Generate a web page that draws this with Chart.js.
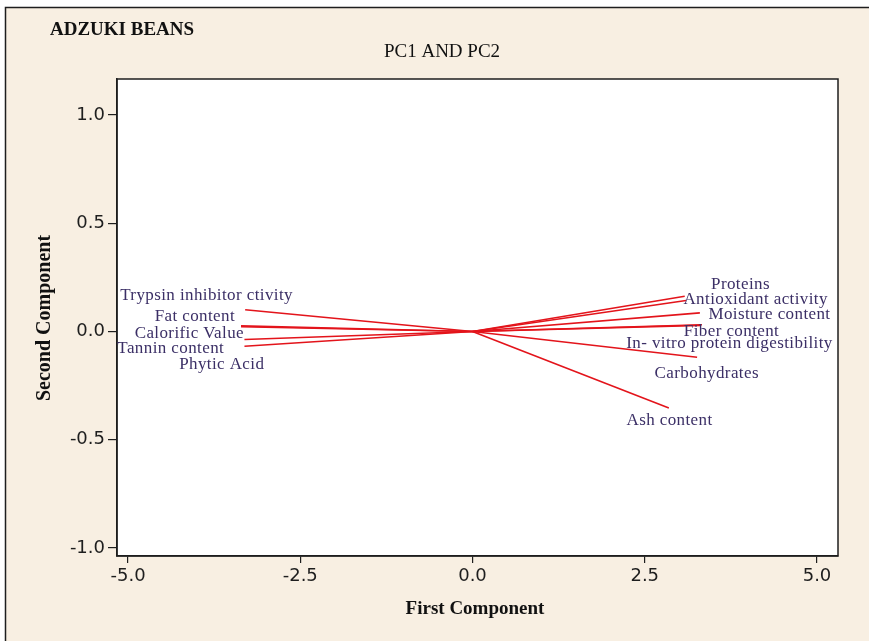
<!DOCTYPE html>
<html lang="en">
<head>
<meta charset="UTF-8">
<title>Adzuki beans PC1 and PC2</title>
<script src="https://cdn.jsdelivr.net/npm/chart.js"></script>
<style>
    html, body { margin: 0; padding: 0; background: #ffffff; }
    #wrap { width: 869px; height: 641px; position: relative; }
</style>
</head>
<body>
<div id="wrap"><canvas id="biplot"></canvas></div>

<script>
    // loadings (end point of each vector)
    const variables = ['Trypsin inhibitor ctivity', 'Fat content', 'Calorific Value', 'Tannin content', 'Phytic Acid',
        'Proteins', 'Antioxidant activity', 'Moisture content', 'Fiber content', 'In- vitro protein digestibility',
        'Carbohydrates', 'Ash content'];
    const pc1 = [-3.30, -3.36, -3.36, -3.31, -3.31, 3.08, 3.10, 3.30, 3.33, 3.31, 3.26, 2.85];
    const pc2 = [0.100, 0.026, 0.022, -0.037, -0.068, 0.163, 0.143, 0.086, 0.031, 0.028, -0.119, -0.354];
    // where each label sits, in axis units
    const labelPc1 = [-3.86, -4.03, -4.11, -4.38, -3.64, 3.89, 4.11, 4.31, 3.76, 3.73, 3.40, 2.86];
    const labelPc2 = [0.166, 0.069, -0.009, -0.078, -0.152, 0.217, 0.148, 0.078, 0.000, -0.055, -0.194, -0.411];

    const xTicks = [-5.0, -2.5, 0.0, 2.5, 5.0];
    const yTicks = [-1.0, -0.5, 0.0, 0.5, 1.0];

    const cream = '#f8efe2';
    const ink = '#1e1e1e';
    const labelInk = '#3b2f66';

    const datasets = variables.map((name, i) => ({
        label: name,
        data: [{x: 0, y: 0}, {x: pc1[i], y: pc2[i]}],
        showLine: true,
        borderColor: '#e3141b',
        borderWidth: 1.6,
        pointRadius: 0
    }));

    const decor = {
        id: 'decor',
        beforeDraw(chart) {
            const ctx = chart.ctx;
            const a = chart.chartArea;
            ctx.save();
            ctx.fillStyle = cream;
            ctx.fillRect(5, 7, chart.width, chart.height);
            ctx.strokeStyle = ink;
            ctx.lineWidth = 1.5;
            ctx.beginPath();
            ctx.moveTo(5.5, chart.height);
            ctx.lineTo(5.5, 7.5);
            ctx.lineTo(chart.width, 7.5);
            ctx.stroke();
            ctx.fillStyle = '#ffffff';
            ctx.fillRect(a.left, a.top, a.right - a.left, a.bottom - a.top);
            ctx.restore();
        },
        afterDatasetsDraw(chart) {
            const ctx = chart.ctx;
            const a = chart.chartArea;
            const xs = chart.scales.x;
            const ys = chart.scales.y;
            ctx.save();
            ctx.strokeStyle = ink;
            ctx.lineWidth = 1.5;
            ctx.strokeRect(a.left, a.top, a.right - a.left, a.bottom - a.top);

            ctx.fillStyle = labelInk;
            ctx.font = '17px "Liberation Serif", serif';
            ctx.letterSpacing = '0.4px';
            ctx.textAlign = 'center';
            ctx.textBaseline = 'middle';
            variables.forEach((name, i) => {
                ctx.fillText(name, xs.getPixelForValue(labelPc1[i]), ys.getPixelForValue(labelPc2[i]));
            });
            ctx.letterSpacing = '0px';

            ctx.fillStyle = '#111111';
            ctx.font = 'bold 19px "Liberation Serif", serif';
            ctx.textAlign = 'left';
            ctx.fillText('ADZUKI BEANS', 50, 30);
            ctx.font = '19px "Liberation Serif", serif';
            ctx.textAlign = 'center';
            ctx.fillText('PC1 AND PC2', 442, 52);
            ctx.font = 'bold 19px "Liberation Serif", serif';
            ctx.fillText('First Component', 475, 609);
            ctx.font = 'bold 20px "Liberation Serif", serif';
            ctx.translate(45, 318);
            ctx.rotate(-Math.PI / 2);
            ctx.fillText('Second Component', 0, 0);
            ctx.restore();
        }
    };

    new Chart(document.getElementById('biplot').getContext('2d'), {
        type: 'scatter',
        data: { datasets: datasets },
        plugins: [decor],
        options: {
            responsive: true,
            maintainAspectRatio: false,
            animation: false,
            layout: { padding: { left: 0, top: 79, right: 31, bottom: 0 } },
            plugins: {
                legend: { display: false },
                tooltip: { enabled: false }
            },
            scales: {
                x: {
                    type: 'linear',
                    min: -5.16,
                    max: 5.305,
                    afterBuildTicks: s => { s.ticks = xTicks.map(v => ({value: v})); },
                    afterFit: s => { s.height = 85; },
                    grid: { drawOnChartArea: false, drawTicks: true, tickLength: 7, color: ink, lineWidth: 1.2 },
                    border: { display: true, color: ink, width: 1.5 },
                    ticks: {
                        color: ink,
                        padding: 3,
                        maxRotation: 0,
                        font: { family: '"DejaVu Sans", sans-serif', size: 18 },
                        callback: v => v.toFixed(1)
                    }
                },
                y: {
                    type: 'linear',
                    min: -1.037,
                    max: 1.166,
                    afterBuildTicks: s => { s.ticks = yTicks.map(v => ({value: v})); },
                    afterFit: s => { s.width = 117; },
                    grid: { drawOnChartArea: false, drawTicks: true, tickLength: 9, color: ink, lineWidth: 1.2 },
                    border: { display: true, color: ink, width: 1.5 },
                    ticks: {
                        color: ink,
                        padding: 3,
                        font: { family: '"DejaVu Sans", sans-serif', size: 18 },
                        callback: v => v.toFixed(1)
                    }
                }
            }
        }
    });
</script>
</body>
</html>
